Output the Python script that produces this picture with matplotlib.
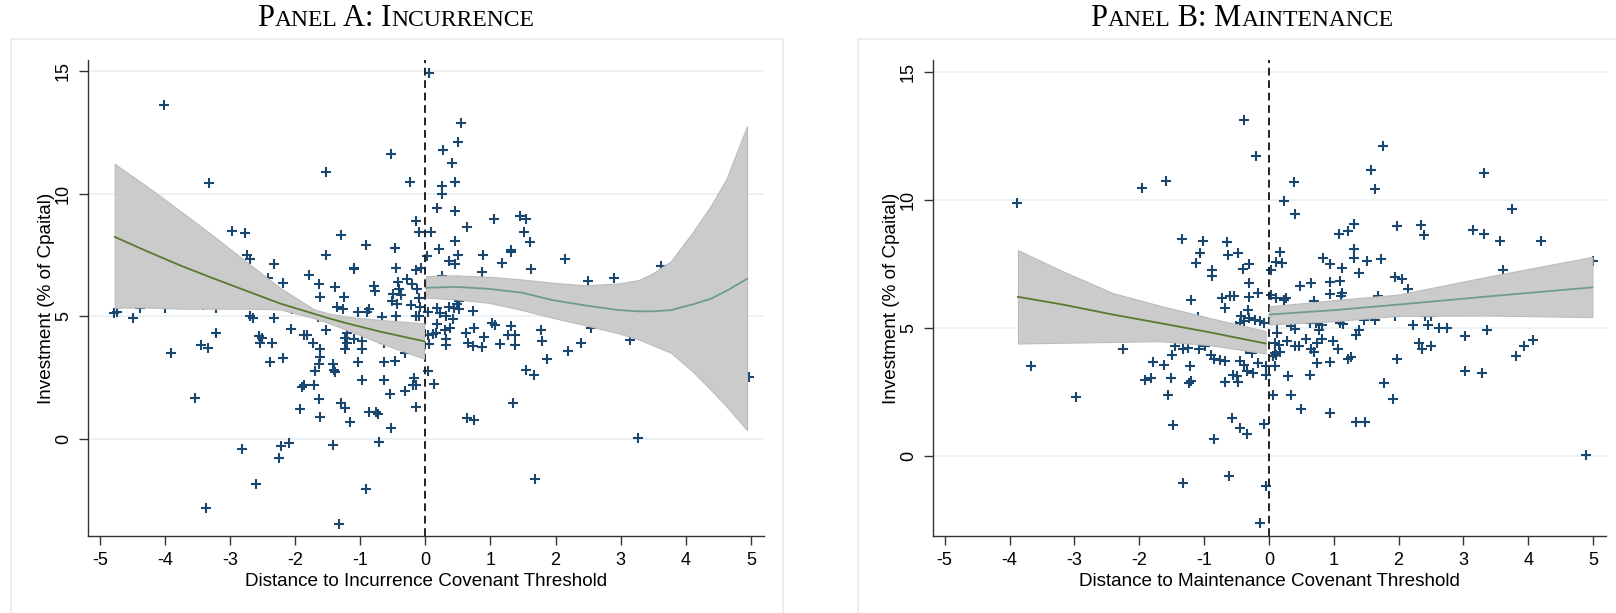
import matplotlib
matplotlib.use("Agg")
import matplotlib.pyplot as plt
from matplotlib.patches import Rectangle
from matplotlib.offsetbox import TextArea, HPacker, AnchoredOffsetbox
import numpy as np

plt.rcParams['font.family'] = ['Liberation Sans', 'DejaVu Sans']

### Panel A: incurrence covenant, scatter
inc_x = [-4.01, -3.32, -2.97, -2.77, -2.74, -2.70, -2.32, -2.41, -2.19, -1.79, -1.64, -1.61,
		 -1.53, -1.53, -4.78, -4.73, -4.49, -4.38, -4.00, -3.41, -3.22, -3.22, -3.90, -3.45,
		 -3.34, -3.53, -2.69, -2.64, -2.56, -2.51, -2.54, -2.36, -2.32, -2.07, -2.38, -2.18,
		 -1.87, -1.81, -1.72, -1.61, -1.61, -1.63, -1.69, -1.65, -1.53, -1.89, -1.86, -1.71,
		 -1.64, -1.93, -1.62, -2.81, -2.21, -2.09, -2.24, -2.60, -3.37, -2.04,
		 0.05, 0.55, 0.50, 0.27, 0.41, 0.46, 0.25, 0.25, 0.18, 0.45, -0.52, -0.23, -0.14,
		 -0.09, 0.08, 0.64, 1.05, 1.46, 1.55, 1.51, 1.60, 0.45, 0.21, 0.03, 0.50, 0.37, 0.45,
		 0.89, 1.17, 1.31, 1.32, 1.62, 0.87, 0.26, -1.29, -0.91, -0.47, -1.09, -1.10, -0.45,
		 -0.14, -0.06, -0.28, -0.21, -1.38, -0.79, -0.78, -1.25, -0.42, -0.41, -0.50, -0.38,
		 -0.51, -0.44, -0.13, -0.10, -0.22, -0.08, -1.36, -1.27, -1.04, -0.87, -0.90, -0.67,
		 -0.45, -0.15, -0.10, 0.04, 0.18, 0.23, 0.31, 0.36, 0.44, 0.49, 0.52, 0.51, 0.73,
		 0.42, 0.18, 0.30, 0.38, 0.17, 0.11, 0.04, 0.06, 0.31, 0.32, 0.63, 0.66, 0.73, 0.74,
		 0.90, 0.87, 1.03, 1.07, 1.15, 1.27, 1.32, 1.37, 1.37, 1.78, 1.79, 1.87, 1.55, 1.67,
		 1.34, 0.64, 0.74, 1.69, 0.04, 0.13, -1.21, -1.23, -1.10, -1.21, -0.98, -1.24, -0.98,
		 -1.03, -0.64, -0.63, -0.46, -0.31, -1.42, -1.41, -1.38, -0.98, -0.64, -0.18, -0.19,
		 -0.14, -0.54, -0.32, -1.29, -1.24, -1.15, -0.87, -0.76, -0.73, -0.14, -0.52, -1.42,
		 -0.71, -0.91, -1.33,
		 2.14, 2.50, 2.90, 3.62, 2.19, 2.39, 2.55, 3.15, 3.26, 4.97]
inc_y = [13.61, 10.45, 8.48, 8.41, 7.52, 7.32, 7.12, 6.57, 6.37, 6.67, 6.30, 5.78,
		 10.88, 7.50, 5.14, 5.18, 4.91, 5.35, 5.35, 5.44, 5.35, 4.33, 3.48, 3.82,
		 3.70, 1.67, 5.01, 4.94, 4.19, 4.12, 3.92, 3.89, 4.94, 4.50, 3.14, 3.28,
		 4.22, 4.22, 3.92, 3.67, 3.33, 3.07, 2.76, 4.97, 4.44, 2.12, 2.18, 2.18,
		 1.61, 1.22, 0.88, -0.41, -0.30, -0.19, -0.78, -1.84, -2.83, 5.28,
		 14.94, 12.87, 12.11, 11.77, 11.27, 10.49, 10.31, 9.97, 9.40, 9.29, 11.61, 10.48, 8.88,
		 8.44, 8.44, 8.65, 8.98, 9.09, 8.98, 8.44, 8.03, 8.07, 7.76, 7.46, 7.50, 7.25, 7.12,
		 7.52, 7.16, 7.69, 7.62, 6.94, 6.80, 6.64, 8.30, 7.90, 7.77, 6.98, 6.91, 6.95,
		 6.88, 6.98, 6.54, 6.30, 6.19, 6.23, 6.03, 5.80, 6.39, 6.12, 5.89, 5.85,
		 5.62, 5.48, 6.10, 5.76, 5.44, 5.39, 5.39, 5.31, 5.18, 5.28, 5.18, 4.98,
		 5.01, 5.01, 5.01, 5.17, 5.35, 5.12, 5.01, 5.39, 5.35, 5.48, 5.62, 5.31, 5.21,
		 4.87, 4.67, 4.44, 4.53, 4.30, 4.26, 4.22, 3.88, 4.08, 3.82, 4.30, 3.89, 3.78, 4.53,
		 4.16, 3.76, 4.71, 4.63, 3.85, 4.22, 4.60, 4.23, 3.82, 4.44, 4.01, 3.27, 2.80, 2.60,
		 1.47, 0.86, 0.76, -1.63, 2.76, 2.22, 4.30, 4.12, 4.08, 3.92, 3.99, 3.65, 3.67,
		 3.14, 3.89, 3.14, 3.17, 3.48, 3.07, 2.80, 2.72, 2.39, 2.39, 2.49, 2.18,
		 2.18, 1.81, 1.95, 1.44, 1.24, 0.69, 1.10, 1.10, 0.99, 1.29, 0.42, -0.26,
		 -0.14, -2.07, -3.46,
		 7.35, 6.44, 6.57, 7.05, 3.58, 3.89, 4.53, 4.05, 0.01, 2.52]

# fitted lines and confidence bands, panel A
inc_left_x = [-4.77, -4.28, -3.76, -3.25, -2.74, -2.23, -1.71, -1.46, -1.20, -0.69, -0.02]
inc_left_fit = [8.24, 7.66, 7.07, 6.54, 6.03, 5.52, 5.10, 4.90, 4.71, 4.37, 3.98]
inc_left_hi = [11.22, 10.31, 9.29, 8.27, 7.21, 6.16, 5.28, 5.10, 4.98, 4.85, 4.71]
inc_left_lo = [5.35, 5.36, 5.31, 5.31, 5.31, 5.28, 4.92, 4.70, 4.44, 3.90, 3.27]

inc_right_x = [0.01, 0.46, 0.97, 1.49, 1.95, 2.46, 2.97, 3.28, 3.49, 3.77, 4.10, 4.38, 4.62, 4.94]
inc_right_fit = [6.16, 6.20, 6.12, 5.96, 5.66, 5.44, 5.25, 5.20, 5.20, 5.25, 5.48, 5.71, 6.03, 6.53]
inc_right_hi = [6.64, 6.67, 6.61, 6.50, 6.37, 6.26, 6.34, 6.48, 6.75, 7.25, 8.41, 9.50, 10.59, 12.76]
inc_right_lo = [5.76, 5.69, 5.55, 5.25, 4.94, 4.63, 4.30, 4.05, 3.82, 3.51, 2.76, 2.01, 1.33, 0.35]

### Panel B: maintenance covenant
mnt_x = [-3.88, -3.67, -2.98, -2.25, -1.96, -1.58, -1.79, -1.62, -1.81, -1.91, -1.56,
		 -0.38, -0.20, 0.39, 0.23, 0.41, 1.76, 1.58, 1.63, 1.97, 1.32, 1.22, 1.08,
		 -1.34, -1.02, -0.64, -1.06, -1.12, -0.63, -0.48, -0.87, -0.87, -0.40, -0.31,
		 -0.31, 0.04, 0.11, 0.17, 0.21, -1.20, -0.68, -0.72, -0.60, -0.53, -0.30, -0.17,
		 -0.32, -0.43, -0.45, -0.38, -0.30, -0.22, -0.14, -0.08, -1.10, -0.50, 0.04, 0.11,
		 0.26, 0.23, 0.69, 0.84, 0.94, 1.13, 1.39, 1.31, 1.32, 1.52, 1.73, 0.48, 0.65,
		 0.94, 1.09, 0.94, 1.13, 1.12, 1.94, 1.68, 0.12, 0.34, 0.40, 0.63, 0.73, 0.82,
		 0.78, 1.09, 1.14, 1.46, 1.63, 1.39, 1.35, 0.12, 0.10, 0.16, 0.28, 0.40, 0.47,
		 0.57, 0.65, 0.70, 0.82, 0.74, 0.99, 1.06, 0.09, 0.17, 0.06, 0.11, 0.74, 0.95,
		 1.22, 1.27, -0.04, 0.09, 0.29, 0.63, 0.06, 0.34, 0.50, 0.95, 1.34, 1.49, 1.77,
		 1.91, 1.97, -1.44, -1.49, -1.32, -1.25, -1.07, -0.99, -1.22, -1.51, -1.20, -1.23,
		 -0.89, -0.84, -0.76, -0.68, -0.68, -0.56, -0.49, -0.48, -0.44, -0.38, -0.34,
		 -0.36, -0.26, -0.25, -0.17, -0.05, -1.48, -0.57, -0.45, -0.34, -0.08, -0.84,
		 -1.33, -0.61, -0.05, -0.13,
		 2.35, 2.40, 3.32, 3.75, 3.15, 3.32, 3.57, 4.19, 3.61, 5.00, 2.06, 2.14, 1.95,
		 2.41, 2.50, 2.22, 2.46, 2.63, 2.74, 3.03, 3.37, 2.31, 2.36, 2.50, 3.81, 3.94,
		 4.08, 3.02, 3.29, 4.89]
mnt_y = [9.87, 3.53, 2.31, 4.18, 10.45, 10.71, 3.66, 3.57, 3.05, 2.96, 2.40,
		 13.12, 11.69, 10.69, 9.96, 9.44, 12.10, 11.14, 10.42, 8.99, 9.06, 8.77, 8.68,
		 8.47, 8.40, 8.34, 7.92, 7.53, 7.86, 7.92, 7.27, 7.01, 7.30, 7.48,
		 6.75, 7.27, 7.56, 7.95, 7.53, 6.10, 5.78, 6.17, 6.26, 6.26, 6.21, 6.36,
		 5.71, 5.48, 5.19, 5.26, 5.39, 5.30, 5.26, 5.19, 5.43, 5.09, 6.30, 6.17,
		 6.17, 6.08, 6.04, 7.73, 7.51, 7.34, 7.14, 8.08, 7.73, 7.62, 7.69, 6.65, 6.75,
		 6.78, 6.82, 6.34, 6.36, 6.26, 6.99, 6.23, 5.19, 5.06, 4.96, 5.19, 5.19, 5.13,
		 4.91, 5.19, 5.17, 5.32, 5.29, 4.91, 4.74, 4.81, 4.42, 4.35, 4.48, 4.29, 4.29,
		 4.57, 4.18, 4.05, 4.57, 4.39, 4.48, 4.18, 4.03, 4.05, 3.90, 3.96, 3.64, 3.66,
		 3.79, 3.87, 3.51, 3.53, 3.14, 3.18, 2.40, 2.40, 1.84, 1.66, 1.32, 1.32, 2.86,
		 2.23, 3.79, 4.31, 3.96, 4.18, 4.22, 4.16, 4.29, 3.51, 3.05, 2.92, 2.83,
		 3.96, 3.77, 3.73, 3.70, 2.88, 3.18, 3.12, 2.88, 3.70, 3.57, 3.31,
		 4.16, 4.03, 3.25, 3.64, 3.18, 1.21, 1.49, 1.10, 0.84, 1.23, 0.65,
		 -1.04, -0.78, -1.17, -2.62,
		 9.03, 8.61, 11.04, 9.65, 8.81, 8.68, 8.40, 8.40, 7.27, 7.60, 6.91, 6.52, 5.48,
		 5.48, 5.45, 5.13, 5.13, 5.00, 5.00, 4.70, 4.91, 4.39, 4.18, 4.31, 3.90, 4.29,
		 4.52, 3.31, 3.25, 0.03]

mnt_left_x = [-3.87, -3.18, -2.41, -1.69, -0.92, -0.05]
mnt_left_fit = [6.21, 5.91, 5.52, 5.19, 4.83, 4.39]
mnt_left_hi = [8.03, 7.21, 6.36, 5.87, 5.39, 4.87]
mnt_left_lo = [4.39, 4.42, 4.45, 4.48, 4.33, 4.00]

mnt_right_x = [0.01, 1.00, 2.00, 3.40, 4.99]
mnt_right_fit = [5.52, 5.69, 5.91, 6.23, 6.58]
mnt_right_hi = [5.84, 6.08, 6.30, 7.01, 7.77]
mnt_right_lo = [5.13, 5.26, 5.47, 5.48, 5.42]

W, H = 1616, 613
NAVY = '#1a476f'
BAND = '#cbcbcb'
GREEN_L = '#587a2f'
GREEN_R = '#6f9c8a'


def px_rect(x0, y0, x1, y1):
	# pixel box (top-left origin) -> figure fraction
	return [x0 / W, 1 - y1 / H, (x1 - x0) / W, (y1 - y0) / H]


def small_caps_title(fig, pieces, cx, cy):
	kids = []
	for txt, big in pieces:
		size = 22 if big else 17
		kids.append(TextArea(txt, textprops=dict(fontsize=size, family='Liberation Serif', color='black')))
	box = HPacker(children=kids, align='baseline', pad=0, sep=0)
	anc = AnchoredOffsetbox(loc='center', child=box, pad=0, borderpad=0, frameon=False,
							bbox_to_anchor=(cx / W, 1 - cy / H), bbox_transform=fig.transFigure)
	fig.add_artist(anc)


def draw_panel(ax, xs, ys, left, right, ylim, xlabel):
	ax.set_xlim(-5.18, 5.2)
	ax.set_ylim(*ylim)
	for v in [0, 5, 10, 15]:
		ax.axhline(v, color='#e8f0f2', lw=1.2, zorder=0)
	ax.scatter(xs, ys, marker='+', s=52, linewidths=1.5, color=NAVY, zorder=2)
	ax.axvline(0, color='#222222', lw=1.4, dashes=(4.0, 2.4), zorder=2.5)
	for (bx, fit, lo, hi), col in zip([left, right], [GREEN_L, GREEN_R]):
		ax.fill_between(bx, lo, hi, color=BAND, edgecolor='#bcbcbc', lw=0.8, zorder=3)
		ax.plot(bx, fit, color=col, lw=1.3, zorder=4)

	ax.set_xticks(np.arange(-5, 6))
	ax.set_xticklabels([str(t) for t in range(-5, 6)])
	ax.set_yticks([0, 5, 10, 15])
	ax.tick_params(axis='both', direction='out', length=6.5, width=1, color='#333333',
				   labelsize=13, pad=5)
	for lab in ax.get_yticklabels():
		lab.set_rotation(90)
		lab.set_va('center')
	for s in ['top', 'right']:
		ax.spines[s].set_visible(False)
	for s in ['left', 'bottom']:
		ax.spines[s].set_color('#333333')
		ax.spines[s].set_linewidth(1)
	ax.set_xlabel(xlabel, fontsize=13.6, labelpad=3)
	ax.set_ylabel('Investment (% of Cpaital)', fontsize=13.6, labelpad=0)


fig = plt.figure(figsize=(W / 100, H / 100), dpi=100)
fig.patch.set_facecolor('white')

# light outer frames around each panel
for x0, x1 in [(11, 783), (858, 1660)]:
	fig.add_artist(Rectangle((x0 / W, -0.02), (x1 - x0) / W, 1 - 39 / H + 0.02,
							 transform=fig.transFigure, fill=False, edgecolor='#e4eced', lw=1.2))

ax1 = fig.add_axes(px_rect(88, 60, 764, 536))
ax2 = fig.add_axes(px_rect(933, 60, 1606, 536))

draw_panel(ax1, inc_x, inc_y,
		   (inc_left_x, inc_left_fit, inc_left_lo, inc_left_hi),
		   (inc_right_x, inc_right_fit, inc_right_lo, inc_right_hi),
		   (-3.97, 15.46), 'Distance to Incurrence Covenant Threshold')
draw_panel(ax2, mnt_x, mnt_y,
		   (mnt_left_x, mnt_left_fit, mnt_left_lo, mnt_left_hi),
		   (mnt_right_x, mnt_right_fit, mnt_right_lo, mnt_right_hi),
		   (-3.12, 15.45), 'Distance to Maintenance Covenant Threshold')

small_caps_title(fig, [('P', True), ('ANEL', False), (' A: I', True), ('NCURRENCE', False)], 396, 19)
small_caps_title(fig, [('P', True), ('ANEL', False), (' B: M', True), ('AINTENANCE', False)], 1242, 19)

fig.savefig('out.png', dpi=100)
